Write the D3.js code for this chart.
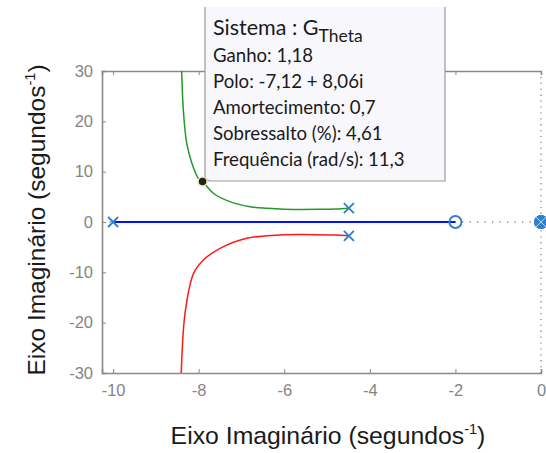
<!DOCTYPE html>
<html>
<head>
<meta charset="utf-8">
<script src="https://cdn.jsdelivr.net/npm/d3@7"></script>
<style>
  html, body { margin: 0; padding: 0; background: #ffffff; }
  svg { display: block; }
</style>
</head>
<body>
<svg id="chart" width="546" height="453"></svg>
<script>
// Root locus of G_Theta: branches, open-loop poles/zeros and one data tip.

// Axis ticks
const xTicks = [-10, -8, -6, -4, -2, 0];
const yTicks = [-30, -20, -10, 0, 10, 20, 30];

// Branch 1: real-axis branch from the pole at -10 to the zero at -2
const branchRealRe = [-10, -2];
const branchRealIm = [0, 0];

// Branch 2: upper complex branch (starts at the upper complex pole)
const branchUpRe = [-4.49, -4.8, -5.2, -5.6, -6.0, -6.4, -6.8, -7.27, -7.66, -7.91, -8.01, -8.16, -8.28, -8.36, -8.40, -8.42];
const branchUpIm = [2.75, 2.6, 2.53, 2.5, 2.53, 2.72, 3.04, 4.04, 5.71, 8.06, 8.7, 11.67, 15.65, 22.3, 30.2, 34];

// Branch 3: lower complex branch (starts at the lower complex pole)
const branchLowRe = [-4.49, -4.8, -5.2, -5.6, -6.0, -6.4, -6.88, -7.5, -7.89, -8.12, -8.32, -8.41, -8.43];
const branchLowIm = [-2.75, -2.6, -2.52, -2.5, -2.53, -2.75, -3.24, -5.23, -7.55, -10.2, -18.15, -30.1, -34];

// Open-loop poles (x) and zeros (o)
const polesRe = [-10, -4.49, -4.49, 0, 0];
const polesIm = [0, 2.75, -2.75, 0, 0];
const zerosRe = [-2, 0, 0];
const zerosIm = [0, 0, 0];

// Data tip values
const tipSystem = "G";
const tipSystemSub = "Theta";
const tipGain = "1,18";
const tipPole = "-7,12 + 8,06i";
const tipDamping = 0.7;
const tipOvershoot = "4,61";
const tipFrequency = 11.3;
const tipPoleIm = 8.06;

const svg = d3.select("#chart");
const plotL = 102, plotR = 541, plotT = 71, plotB = 373;

const x = d3.scaleLinear().domain([-10.26, 0]).range([plotL, plotR]);
const y = d3.scaleLinear().domain([-30, 30]).range([plotB, plotT]);

const axisColor = "#8a8a8a";
const tickColor = "#858585";
const markerColor = "#2f80d1";

// Clip for branches
svg.append("clipPath").attr("id", "plotClip")
  .append("rect").attr("x", plotL).attr("y", plotT)
  .attr("width", plotR - plotL).attr("height", plotB - plotT);

// Dotted zero lines (real and imaginary axes)
svg.append("line")
  .attr("x1", plotL).attr("x2", x(0)).attr("y1", y(0)).attr("y2", y(0))
  .attr("stroke", "#8c8c8c").attr("stroke-width", 1.3)
  .attr("stroke-dasharray", "1.3,6.2");
svg.append("line")
  .attr("x1", x(0)).attr("x2", x(0)).attr("y1", plotT).attr("y2", plotB)
  .attr("stroke", "#8c8c8c").attr("stroke-width", 1.3)
  .attr("stroke-dasharray", "1.3,4.6");

// Axes (bottom, top, left) with inward ticks
const intFmt = d => d3.format("d")(d).replace("−", "-");
const gBottom = svg.append("g").attr("transform", `translate(0,${plotB})`)
  .call(d3.axisBottom(x).tickValues(xTicks).tickSize(-4).tickPadding(13).tickFormat(intFmt));
const gTop = svg.append("g").attr("transform", `translate(0,${plotT})`)
  .call(d3.axisTop(x).tickValues(xTicks).tickSize(-4).tickFormat(""));
const gLeft = svg.append("g").attr("transform", `translate(${plotL},0)`)
  .call(d3.axisLeft(y).tickValues(yTicks).tickSize(-4).tickPadding(9).tickFormat(intFmt));

[gBottom, gTop, gLeft].forEach(g => {
  g.select(".domain").attr("stroke", axisColor).attr("stroke-width", 1.6);
  g.selectAll(".tick line").attr("stroke", axisColor).attr("stroke-width", 1);
  g.selectAll(".tick text")
    .attr("fill", tickColor)
    .style("font-family", "'Liberation Sans', Arial, sans-serif")
    .style("font-size", "16.5px");
});
// the zero tick on the right edge sits on the dotted line, so leave it out
gBottom.selectAll(".tick").filter(d => d === 0).select("line").remove();
gTop.selectAll(".tick").filter(d => d === 0).select("line").remove();
gBottom.selectAll(".tick text").attr("dy", "0.6em");

// Branches
const line = d3.line().curve(d3.curveCatmullRom.alpha(0.5));
const plot = svg.append("g").attr("clip-path", "url(#plotClip)");

plot.append("path")
  .attr("d", line(branchUpRe.map((r, i) => [x(r), y(branchUpIm[i])])))
  .attr("fill", "none").attr("stroke", "#23992a").attr("stroke-width", 1.5);
plot.append("path")
  .attr("d", line(branchLowRe.map((r, i) => [x(r), y(branchLowIm[i])])))
  .attr("fill", "none").attr("stroke", "#ff1a1a").attr("stroke-width", 1.5);
plot.append("path")
  .attr("d", d3.line()(branchRealRe.map((r, i) => [x(r), y(branchRealIm[i])])))
  .attr("fill", "none").attr("stroke", "#0010ff").attr("stroke-width", 2);

// Zeros
zerosRe.forEach((r, i) => {
  const atOrigin = r === 0;
  svg.append("circle")
    .attr("cx", x(r)).attr("cy", y(zerosIm[i])).attr("r", 6)
    .attr("fill", atOrigin ? markerColor : "none")
    .attr("stroke", markerColor).attr("stroke-width", 2);
});

// Poles
const s = 5;
polesRe.forEach((r, i) => {
  const cx = x(r), cy = y(polesIm[i]);
  const atOrigin = r === 0;
  svg.append("path")
    .attr("d", `M${cx - s},${cy - s}L${cx + s},${cy + s}M${cx - s},${cy + s}L${cx + s},${cy - s}`)
    .attr("stroke", atOrigin ? "#b9d6f3" : markerColor)
    .attr("stroke-width", atOrigin ? 1 : 1.8).attr("fill", "none");
});

// Data tip marker, placed from the stated damping, frequency and imaginary part
const tipRe = -tipDamping * tipFrequency;
const tipX = x(tipRe), tipY = y(tipPoleIm);

// Data tip box
const boxL = 205, boxR = 445, boxT = 7, boxB = 181, rad = 6;
svg.append("path")
  .attr("d", `M${boxL},${boxT}H${boxR}V${boxB}H${boxL + rad}Q${boxL},${boxB} ${boxL},${boxB - rad}Z`)
  .attr("fill", "#f8f8fc").attr("stroke", "none");
svg.append("path")
  .attr("d", `M${boxL},${boxT}V${boxB - rad}Q${boxL},${boxB} ${boxL + rad},${boxB}H${boxR}V${boxT}`)
  .attr("fill", "none").attr("stroke", "#9a9a9a").attr("stroke-width", 1.2);

svg.append("circle")
  .attr("cx", tipX).attr("cy", tipY).attr("r", 4.5)
  .attr("fill", "#222").attr("stroke", "#efe6b0").attr("stroke-width", 1.5);

const tipFont = "Lato, 'Open Sans', sans-serif";
const tx = 213;
const t0 = svg.append("text").attr("x", tx).attr("y", 35)
  .style("font-family", tipFont).style("font-size", "21.5px").attr("fill", "#1a1a1a");
t0.append("tspan").text(`Sistema : ${tipSystem}`);
t0.append("tspan").attr("dy", 7).style("font-size", "17.5px").text(tipSystemSub);

const fmt = v => String(v).replace(".", ",");
const tipLines = [
  `Ganho: ${tipGain}`,
  `Polo: ${tipPole}`,
  `Amortecimento: ${fmt(tipDamping)}`,
  `Sobressalto (%): ${tipOvershoot}`,
  `Frequência (rad/s): ${fmt(tipFrequency)}`
];
tipLines.forEach((t, i) => {
  svg.append("text").attr("x", tx).attr("y", 61.5 + i * 26)
    .style("font-family", tipFont).style("font-size", "18.6px")
    .attr("fill", "#1a1a1a").text(t);
});

// Axis titles
const labelFont = "'Liberation Sans', Arial, sans-serif";
const xl = svg.append("text")
  .attr("x", 328).attr("y", 444).attr("text-anchor", "middle")
  .style("font-family", labelFont).style("font-size", "24.8px").attr("fill", "#1a1a1a");
xl.append("tspan").text("Eixo Imaginário (segundos");
xl.append("tspan").attr("dy", -10).style("font-size", "14.5px").text("-1");
xl.append("tspan").attr("dy", 10).text(")");

const yl = svg.append("text")
  .attr("transform", "translate(45,220) rotate(-90)").attr("text-anchor", "middle")
  .style("font-family", labelFont).style("font-size", "24.5px").attr("fill", "#1a1a1a");
yl.append("tspan").text("Eixo Imaginário (segundos");
yl.append("tspan").attr("dy", -10).style("font-size", "14.5px").text("-1");
yl.append("tspan").attr("dy", 10).text(")");
</script>
</body>
</html>
